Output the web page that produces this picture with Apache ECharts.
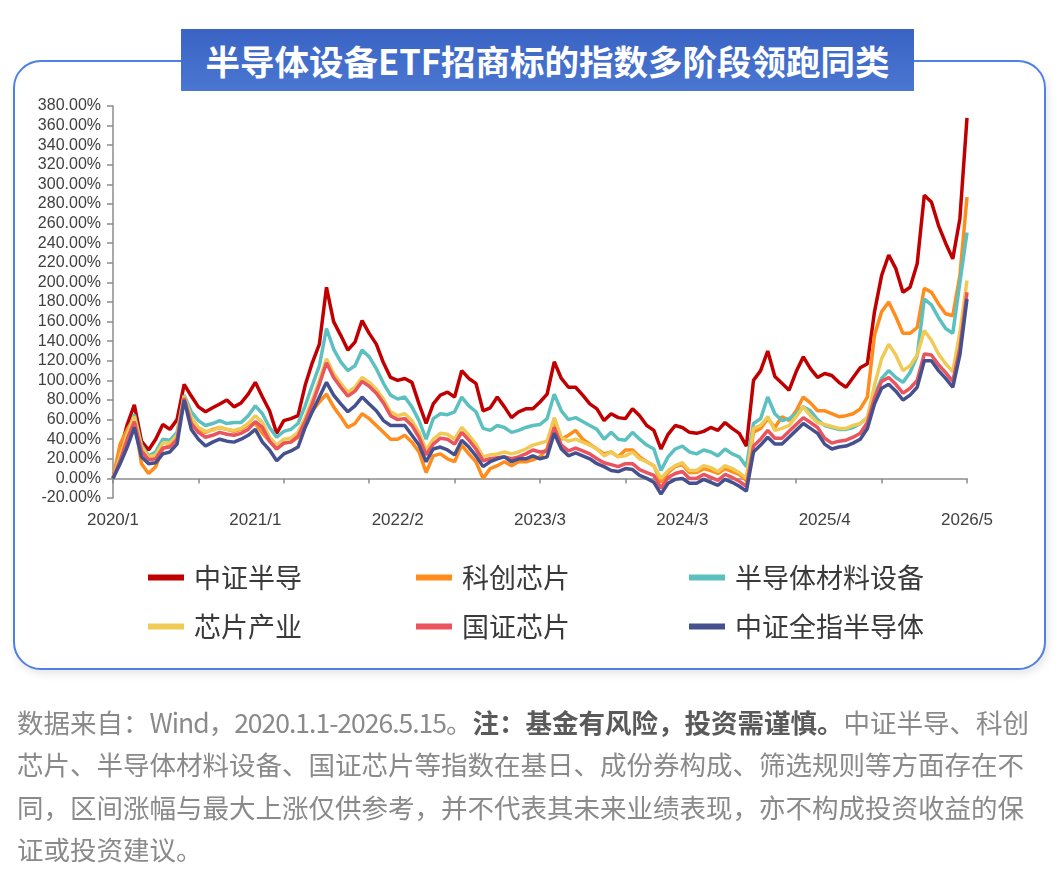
<!DOCTYPE html>
<html><head><meta charset="utf-8">
<script src="https://cdn.jsdelivr.net/npm/echarts@6/dist/echarts.min.js"></script>
<style>
html,body{margin:0;padding:0;background:#fff;width:1060px;height:880px;overflow:hidden;}
#box{position:absolute;left:13px;top:60px;width:1029px;height:606px;border:2px solid #4E80E6;border-radius:28px;box-shadow:2px 4px 8px rgba(0,0,0,0.10);background:#fff;}
#chart{position:absolute;left:0;top:0;width:1060px;height:880px;}
#banner{position:absolute;left:181px;top:29px;width:733px;height:62px;background:linear-gradient(#3A63C3,#4A77D2);color:#fff;font-weight:bold;font-size:34.5px;font-family:"Noto Sans CJK SC";text-align:center;line-height:62px;white-space:nowrap;}
#note{position:absolute;left:17px;top:701px;width:1040px;font-size:26.5px;line-height:42.3px;font-family:"Noto Sans CJK SC";color:#8a8a8a;white-space:nowrap;}
#note b{color:#5a5a5a;}
#note .n{letter-spacing:-1px;}
</style></head>
<body>
<div id="box"></div>
<div id="chart"></div>
<div id="banner">半导体设备ETF招商标的指数多阶段领跑同类</div>
<div id="note">数据来自：<span class="n">Wind，2020.1.1-2026.5.15</span>。<b>注：基金有风险，投资需谨慎。</b>中证半导、科创<br>芯片、半导体材料设备、国证芯片等指数在基日、成份券构成、筛选规则等方面存在不<br>同，区间涨幅与最大上涨仅供参考，并不代表其未来业绩表现，亦不构成投资收益的保<br>证或投资建议。</div>
<script>
const tickLabels = ['2020/1','2021/1','2022/2','2023/3','2024/3','2025/4','2026/5'];
const seriesNames = ['中证半导','科创芯片','半导体材料设备','芯片产业','国证芯片','中证全指半导体'];
const categories = Array.from({length:121},(_,i)=>'P'+i);

const zzbd = [0,28,55,75,38,29,40,55,50,60,
96,84,73,68,72,76,80,73,77,86,
98,83,69,46,59,61,64,95,118,137,
195,160,146,131,139,161,148,137,118,103,
100,102,98,76,56,76,85,88,83,110,
102,97,69,72,83,73,62,68,71,71,
78,86,119,102,93,93,85,76,71,59,
66,62,61,71,64,54,49,30,45,54,
52,47,46,48,52,49,57,51,46,33,
100,110,130,104,97,90,109,124,112,103,
107,105,98,93,103,113,117,170,207,228,
214,190,195,219,289,282,258,240,224,265,
368];
const kcxp = [0,35,50,62,15,5,12,30,34,43,
82,60,50,47,50,52,50,48,50,55,
56,46,38,30,36,37,42,59,69,78,
86,73,63,52,56,66,61,54,47,40,
40,44,37,27,6,23,25,20,17,34,
25,17,0,10,13,17,13,17,17,19,
22,30,59,40,44,49,40,35,30,25,
27,22,29,29,22,17,13,-4,6,12,
14,6,6,10,8,5,10,7,4,-2,
47,51,61,52,63,59,69,83,77,69,
69,66,63,64,66,71,83,146,170,180,
165,148,148,154,194,190,178,168,166,207,
287];
const bdtclsb = [0,22,45,65,34,23,27,40,39,47,
85,68,59,54,56,59,56,57,57,64,
74,66,52,42,48,50,56,74,95,115,
153,132,119,110,115,131,124,112,97,85,
81,83,73,59,40,61,66,65,68,83,
74,68,51,49,54,52,47,49,52,54,
55,61,86,69,60,62,58,54,50,40,
47,40,39,47,40,34,30,8,22,30,
33,27,25,29,27,23,30,25,22,12,
56,61,83,66,59,61,66,73,69,60,
54,52,50,50,52,56,62,85,102,110,
103,98,108,125,183,177,164,153,148,200,
251];
const xpcy = [0,22,45,63,32,22,24,36,36,44,
84,62,52,48,49,52,50,49,51,56,
64,57,42,34,40,41,47,62,80,100,
122,107,97,88,93,103,98,91,81,68,
64,66,59,47,29,40,46,45,40,52,
44,35,22,24,25,27,25,27,30,34,
36,38,62,42,38,40,37,34,30,23,
27,22,23,27,20,17,13,0,8,13,
16,8,8,13,11,7,13,10,6,0,
51,54,63,49,51,54,63,73,64,57,
55,53,51,51,54,56,62,95,122,137,
126,110,115,126,151,141,127,117,109,149,
202];
const gzxp = [0,18,40,58,28,19,20,31,32,40,
82,56,47,42,44,47,45,44,46,50,
58,52,38,30,36,37,43,58,76,96,
118,103,93,84,89,99,94,87,77,64,
60,61,54,42,24,35,41,40,35,47,
39,30,18,20,21,22,20,22,25,29,
27,28,52,34,28,31,28,25,20,16,
14,12,15,15,9,6,3,-10,1,5,
7,0,0,4,1,-2,4,1,-3,-8,
33,40,49,41,41,48,55,62,57,52,
41,36,38,39,42,46,57,82,99,103,
96,87,92,100,127,126,116,108,99,133,
190];
const zzqzbdt = [0,15,32,52,22,15,16,25,27,35,
80,50,40,33,37,40,38,37,40,44,
50,37,29,18,25,28,32,52,68,83,
98,85,76,68,74,83,76,69,59,54,
54,54,44,34,17,30,32,29,24,39,
32,23,12,17,20,22,17,20,20,23,
20,22,46,30,23,26,23,20,15,12,
8,7,10,9,3,0,-4,-16,-5,-1,
0,-5,-5,-1,-4,-7,-1,-4,-8,-13,
27,34,42,35,35,42,49,56,51,46,
35,30,32,33,36,40,51,76,92,96,
89,80,85,93,120,120,110,102,93,126,
183];

const seriesData = [zzbd,kcxp,bdtclsb,xpcy,gzxp,zzqzbdt];
const colors = ['#C00000','#FF8C1C','#5CC0C0','#EFCB55','#E9545E','#45518E'];
const legendPos = [[148,564],[416,564],[689,564],[148,613],[416,613],[689,613]];
const axisColor = '#8c8c8c';

const chart = echarts.init(document.getElementById('chart'), null, {renderer:'canvas'});
chart.setOption({
  animation:false,
  color:colors,
  grid:{left:113,right:93,top:106,bottom:382},
  legend: seriesNames.map((n,k)=>({
    data:[n], left:legendPos[k][0], top:legendPos[k][1], padding:0,
    icon:'rect', itemWidth:36, itemHeight:6, selectedMode:false,
    textStyle:{fontSize:27, color:'#3a3a3a', fontFamily:'Noto Sans CJK SC', padding:[0,0,0,5]}
  })),
  xAxis:[
    {type:'category', data:categories, boundaryGap:false, position:'bottom',
     axisLine:{show:false,onZero:false}, axisTick:{show:false},
     axisLabel:{interval:19, margin:14, fontSize:17, color:'#404040', fontFamily:'Liberation Sans',
       formatter:(v,i)=>tickLabels[i/20]||''}},
    {type:'category', data:categories, boundaryGap:false, position:'top',
     axisLine:{show:true,onZero:true,lineStyle:{color:axisColor,width:1.5}},
     axisTick:{show:true,interval:11,inside:true,length:5,lineStyle:{color:axisColor,width:1.5}},
     axisLabel:{show:false}}
  ],
  yAxis:{type:'value', min:-20, max:380, interval:20,
    axisLine:{show:true,lineStyle:{color:axisColor,width:1.5}},
    axisTick:{show:true,length:6,lineStyle:{color:axisColor,width:1.5}},
    splitLine:{show:false},
    axisLabel:{fontSize:16, color:'#404040', fontFamily:'Liberation Sans', margin:12,
      formatter:v=>v.toFixed(2)+'%'}},
  series: seriesNames.map((n,k)=>({
    name:n, type:'line', xAxisIndex:0, data:seriesData[k], showSymbol:false,
    lineStyle:{width:3.5,color:colors[k]}, itemStyle:{color:colors[k]}
  }))
});
</script>
</body></html>
